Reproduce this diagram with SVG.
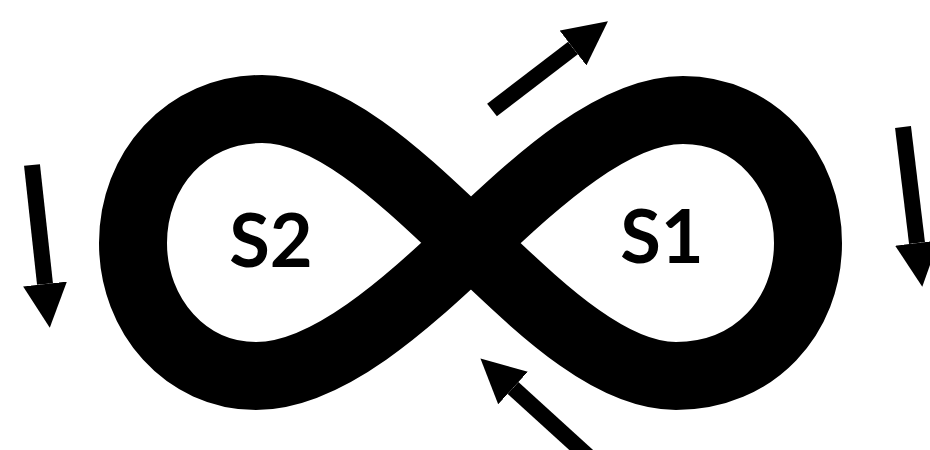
<svg xmlns="http://www.w3.org/2000/svg" width="930" height="450" viewBox="0 0 930 450">
  <style>
    .loop { fill: none; stroke: #000; stroke-width: 68; stroke-linejoin: round; }
    .lbl { font-family: "Lato", "Open Sans", "Liberation Sans", sans-serif; font-weight: bold; font-size: 74px; fill: #000; text-anchor: middle; }
    .arr { fill: none; stroke: #000; stroke-width: 16; stroke-linecap: butt; }
  </style>
  <defs>
    <marker id="head" markerUnits="userSpaceOnUse" viewBox="0 0 44 44" refX="0" refY="22" markerWidth="44" markerHeight="44" orient="auto">
      <path d="M0,0 L44,22 L0,44 z" fill="#000"/>
    </marker>
  </defs>
  <rect width="930" height="450" fill="#fff"/>
  <g id="infinity">
    <path class="loop" d="M471,243 C530,188 610,110 683,110 C755,110 808,170 808,243 C808,316 755,376 676,376 C605,376 530,298 471,243 C412,188 335,109 262,109 C186,109 133,170 133,243 C133,316 186,376 256,376 C330,376 412,298 471,243 Z"/>
  </g>
  <g id="S2">
    <text class="lbl" x="271" y="267">S2</text>
  </g>
  <g id="S1">
    <text class="lbl" x="662" y="263">S1</text>
  </g>
  <g id="connectors">
    <path class="arr" d="M32,165 L45,284" marker-end="url(#head)"/>
    <path class="arr" d="M903,127 L917,243" marker-end="url(#head)"/>
    <path class="arr" d="M492,110 L573,48" marker-end="url(#head)"/>
    <path class="arr" d="M590,458 L513,388" marker-end="url(#head)"/>
  </g>
</svg>
